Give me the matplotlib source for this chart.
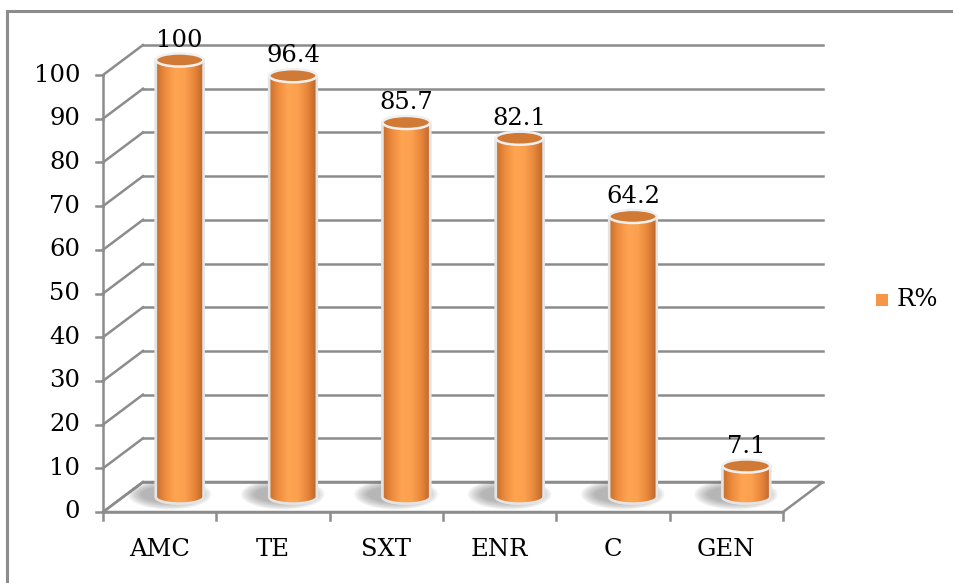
import numpy as np
import matplotlib.pyplot as plt
from matplotlib.patches import Ellipse, Polygon, Rectangle, PathPatch
from matplotlib.path import Path
from matplotlib.colors import LinearSegmentedColormap

# R% per antibiotic
categories = ['AMC', 'TE', 'SXT', 'ENR', 'C', 'GEN']
values = [100, 96.4, 85.7, 82.1, 64.2, 7.1]
value_labels = ['100', '96.4', '85.7', '82.1', '64.2', '7.1']
series_name = 'R%'
yticks = list(range(0, 101, 10))

plt.rcParams['font.family'] = ['DejaVu Serif']
FS = 17.5

W, H = 954, 583
fig = plt.figure(figsize=(W / 100, H / 100), dpi=100)

# front plane of the 3D box: categories 0..6 across, 0..100 up
ax = fig.add_axes([103 / W, (H - 512) / H, 680 / W, 437 / H])
ax.axis('off')

# depth offset of the back wall, in data units
dx = 40 / 113.33
dy = 30 / 4.37
grid_c = '#8c8c8c'

# floor
floor = Polygon([(0, 0), (6, 0), (6 + dx, dy), (dx, dy)], closed=True,
                facecolor='white', edgecolor=grid_c, lw=1.8, clip_on=False, zorder=1)
ax.add_patch(floor)

# back wall grid and side wall diagonals
for v in yticks:
    ax.plot([dx, 6 + dx], [v + dy, v + dy], color=grid_c, lw=1.8, clip_on=False, zorder=1)
    ax.plot([0, dx], [v, v + dy], color=grid_c, lw=1.8, clip_on=False, zorder=1)
    ax.plot([-0.065, 0], [v, v], color=grid_c, lw=1.8, clip_on=False, zorder=1)
    ax.text(-0.2, v, str(v), ha='right', va='center', fontsize=FS, clip_on=False)

ax.plot([0, 0], [0, 100], color=grid_c, lw=1.8, clip_on=False, zorder=2)
ax.plot([0, 6], [0, 0], color=grid_c, lw=1.8, clip_on=False, zorder=2)
for i in range(len(categories) + 1):
    ax.plot([i, i], [0, -1.9], color=grid_c, lw=1.8, clip_on=False, zorder=2)

for i, c in enumerate(categories):
    ax.text(i + 0.5, -8.6, c, ha='center', va='center', fontsize=FS, clip_on=False)

# cylinders
cyl = LinearSegmentedColormap.from_list('cyl', ['#c86f2c', '#ee8d3f', '#ffa552', '#fba04e', '#e8863a', '#b9642a'])
grad = np.linspace(0, 1, 256).reshape(1, -1)
bw = 0.42
eh = 3.0
for i, v in enumerate(values):
    cx = i + 0.5 + dx / 2
    base = dy / 2
    top = base + v

    # soft floor shadow, cast back and to the left
    for k in range(7):
        ax.add_patch(Ellipse((cx - 0.09, base + 0.6), bw * (1.75 - k * 0.09), eh * (2.3 - k * 0.17),
                             facecolor='#6e6e6e', edgecolor='none', alpha=0.09,
                             clip_on=False, zorder=3))

    verts = [(cx - bw / 2, top), (cx - bw / 2, base)]
    th = np.linspace(np.pi, 2 * np.pi, 40)
    verts += [(cx + bw / 2 * np.cos(t), base + eh / 2 * np.sin(t)) for t in th]
    verts += [(cx + bw / 2, top), (cx - bw / 2, top)]
    path = Path(verts, closed=True)
    ax.add_patch(PathPatch(path, facecolor='white', edgecolor='#e4e4e4', lw=1.8,
                           clip_on=False, zorder=4))
    im = ax.imshow(grad, cmap=cyl, aspect='auto', zorder=4.5,
                   extent=[cx - bw / 2, cx + bw / 2, base - eh, top + eh])
    im.set_clip_path(PathPatch(path, transform=ax.transData))
    im.set_clip_box(fig.bbox)
    ax.add_patch(PathPatch(path, facecolor='none', edgecolor='#e4e4e4', lw=1.8,
                           clip_on=False, zorder=5))

    ax.add_patch(Ellipse((cx, top), bw, eh, facecolor='#d07a36', edgecolor='#f0f0f0',
                         lw=1.8, clip_on=False, zorder=6))
    ax.text(cx, top + eh / 2 + 0.4, value_labels[i], ha='center', va='bottom',
            fontsize=FS, clip_on=False, zorder=7)

ax.set_xlim(0, len(categories))
ax.set_ylim(0, 100)

# legend
fig.patches.append(Rectangle((876 / W, 1 - 306 / H), 12 / W, 12 / H, transform=fig.transFigure,
                             facecolor='#f79646', edgecolor='none'))
fig.text(897 / W, 1 - 300 / H, series_name, ha='left', va='center', fontsize=FS)

# chart frame, its right and bottom edges run past the image
fig.patches.append(Rectangle((7 / W, -0.1), 1.2, 1 - 11 / H + 0.1, transform=fig.transFigure,
                             facecolor='none', edgecolor='#8c8c8c', lw=2.2))

fig.savefig('out.png', dpi=100)
